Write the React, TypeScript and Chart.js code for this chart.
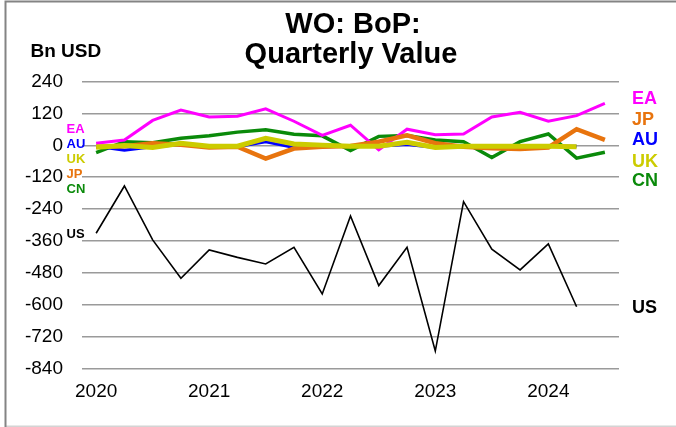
import React, { useEffect, useRef } from 'react';
import { Chart, registerables } from 'chart.js';

Chart.register(...registerables);

// ---------- data ----------
const quarters = [
  '2020Q1', '2020Q2', '2020Q3', '2020Q4',
  '2021Q1', '2021Q2', '2021Q3', '2021Q4',
  '2022Q1', '2022Q2', '2022Q3', '2022Q4',
  '2023Q1', '2023Q2', '2023Q3', '2023Q4',
  '2024Q1', '2024Q2', '2024Q3',
];
const yTickValues = [240, 120, 0, -120, -240, -360, -480, -600, -720, -840];

const euroArea = [8, 20, 94, 133, 107, 110, 138, 91, 38, 76, -17, 61, 40, 43, 107, 125, 91, 112, 158];
const china = [-27, 14, 10, 27, 36, 50, 59, 42, 36, -19, 34, 37, 20, 14, -46, 14, 43, -48, -26];
const japan = [-5, -3, 8, 2, -8, -5, -50, -12, -5, -2, 14, 38, 8, -5, -11, -14, -8, 61, 21];
const australia = [-3, -18, -5, 2, -3, -5, 14, -8, -5, -3, -3, 3, -8, -5, -5, -5, -3, -3, null];
const unitedKingdom = [-7, 0, -8, 8, -3, -3, 27, 5, 1, -3, -3, 12, -8, -3, -3, -3, -3, -5, null];
const unitedStates = [-331, -153, -356, -501, -394, -422, -447, -384, -560, -266, -528, -384, -775, -212, -391, -469, -371, -608, null];

const titleLines = ['WO: BoP:', 'Quarterly Value'];
const unitLabel = 'Bn USD';

// series label anchors (in value units of the y scale)
const leftLabels = [
  { text: 'EA', color: '#ff00ff', at: 60 },
  { text: 'AU', color: '#0000ff', at: 3 },
  { text: 'UK', color: '#cccc00', at: -53 },
  { text: 'JP', color: '#e8740e', at: -110 },
  { text: 'CN', color: '#0a8a0a', at: -166 },
  { text: 'US', color: '#000000', at: -334 },
];
const rightLabels = [
  { text: 'EA', color: '#ff00ff', at: 173 },
  { text: 'JP', color: '#e8740e', at: 94 },
  { text: 'AU', color: '#0000ff', at: 22 },
  { text: 'UK', color: '#cccc00', at: -61 },
  { text: 'CN', color: '#0a8a0a', at: -136 },
  { text: 'US', color: '#000000', at: -613 },
];

const FONT = "'Liberation Sans', Arial, sans-serif";

const decorPlugin = {
  id: 'decor',
  beforeDraw(chart: any) {
    const { ctx, width, height } = chart;
    ctx.save();
    ctx.fillStyle = '#ffffff';
    ctx.fillRect(0, 0, width, height);
    // frame
    ctx.strokeStyle = '#d4d4d4';
    ctx.lineWidth = 1.5;
    ctx.beginPath();
    ctx.moveTo(5, 426.2);
    ctx.lineTo(width, 426.2);
    ctx.stroke();
    ctx.strokeStyle = '#848484';
    ctx.lineWidth = 2;
    ctx.beginPath();
    ctx.moveTo(width, 1.5);
    ctx.lineTo(5.5, 1.5);
    ctx.lineTo(5.5, height);
    ctx.stroke();
    ctx.restore();
  },
  afterDraw(chart: any) {
    const { ctx, chartArea } = chart;
    const y = chart.scales.y;
    ctx.save();
    ctx.fillStyle = '#000';
    ctx.textAlign = 'center';
    ctx.textBaseline = 'alphabetic';
    ctx.font = `bold 29px ${FONT}`;
    ctx.fillText(titleLines[0], 353, 33.3);
    ctx.fillText(titleLines[1], 351, 62.6);
    ctx.textAlign = 'left';
    ctx.font = `bold 19px ${FONT}`;
    ctx.fillText(unitLabel, 30.5, 56.7);

    ctx.textBaseline = 'middle';
    ctx.font = `bold 13px ${FONT}`;
    for (const l of leftLabels) {
      ctx.fillStyle = l.color;
      ctx.fillText(l.text, chartArea.left - 15.5, y.getPixelForValue(l.at));
    }
    ctx.font = `bold 18px ${FONT}`;
    for (const l of rightLabels) {
      ctx.fillStyle = l.color;
      ctx.fillText(l.text, chartArea.right + 13, y.getPixelForValue(l.at));
    }
    ctx.restore();
  },
};

function line(label: string, data: (number | null)[], color: string, width: number) {
  return {
    label,
    data,
    borderColor: color,
    backgroundColor: color,
    borderWidth: width,
    pointRadius: 0,
    tension: 0,
    fill: false,
    spanGaps: false,
  };
}

export default function App() {
  const ref = useRef<HTMLCanvasElement>(null);
  useEffect(() => {
    if (!ref.current) return;
    const chart = new Chart(ref.current, {
      type: 'line',
      data: {
        labels: quarters,
        datasets: [
          line('UK', unitedKingdom, '#cccc00', 5),
          line('JP', japan, '#e8740e', 4.5),
          line('AU', australia, '#0000ff', 3),
          line('EA', euroArea, '#ff00ff', 3),
          line('CN', china, '#0a8a0a', 3.5),
          line('US', unitedStates, '#000000', 1.6),
        ],
      },
      options: {
        animation: false,
        responsive: false,
        devicePixelRatio: 1,
        layout: { padding: { left: 0, right: 57, top: 81.7, bottom: 0 } },
        plugins: {
          legend: { display: false },
          title: { display: false },
          tooltip: { enabled: false },
        },
        scales: {
          x: {
            type: 'category',
            offset: true,
            grid: { display: false, drawTicks: false },
            border: { display: false },
            afterFit: (s: any) => { s.height = 58.7; },
            ticks: {
              autoSkip: false,
              maxRotation: 0,
              minRotation: 0,
              padding: 12,
              color: '#000',
              font: { size: 19, family: FONT },
              callback: (_v: any, i: number) => {
                const q = quarters[i];
                return q.endsWith('Q1') ? q.slice(0, 4) : '';
              },
            },
          },
          y: {
            min: -840,
            max: 240,
            afterFit: (s: any) => { s.width = 82; },
            afterBuildTicks: (s: any) => { s.ticks = yTickValues.map((v) => ({ value: v })); },
            grid: { color: '#9a9a9a', lineWidth: 1.5, drawTicks: false },
            border: { display: false },
            ticks: {
              padding: 19,
              color: '#000',
              font: { size: 19, family: FONT },
            },
          },
        },
      },
      plugins: [decorPlugin],
    } as any);
    return () => chart.destroy();
  }, []);
  return (
    <div style={{ position: 'fixed', left: 0, top: 0, width: 676, height: 427 }}>
      <canvas ref={ref} width={676} height={427} style={{ display: 'block' }} />
    </div>
  );
}
